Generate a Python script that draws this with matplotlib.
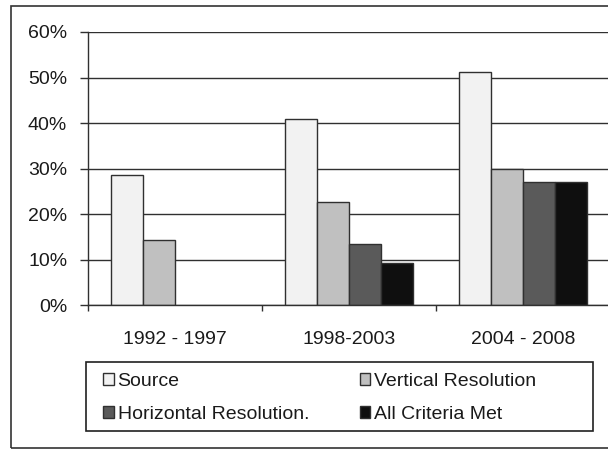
import matplotlib
matplotlib.use("Agg")
import matplotlib.pyplot as plt
from matplotlib.patches import Rectangle, Patch
import numpy as np

plt.rcParams['font.family'] = ['Liberation Sans', 'DejaVu Sans']

periods = ["1992 - 1997", "1998-2003", "2004 - 2008"]
series = ["Source", "Vertical Resolution", "Horizontal Resolution.", "All Criteria Met"]
source = [28.6, 40.8, 51.2]
vertical = [14.3, 22.6, 29.8]
horizontal = [0, 13.5, 27.0]
all_met = [0, 9.2, 27.0]
colors = ["#f2f2f2", "#c0c0c0", "#5a5a5a", "#0f0f0f"]
yticks = [0, 10, 20, 30, 40, 50, 60]

fig = plt.figure(figsize=(6.08, 4.49), dpi=100)
ax = fig.add_axes([88/608, 1 - 305/449, 522/608, 273/449])

# outer chart border (right side falls outside the picture)
fig.patches.append(Rectangle((11/608, 1 - 448/449), 1.2, 442/449,
                             transform=fig.transFigure, fill=False,
                             edgecolor="#333333", linewidth=1.2))
# legend box
fig.patches.append(Rectangle((86/608, 1 - 431/449), 507/608, 69/449,
                             transform=fig.transFigure, fill=False,
                             edgecolor="#202020", linewidth=1.2))

x = np.arange(len(periods))
w = 0.184
values = [source, vertical, horizontal, all_met]
for i, (vals, name, c) in enumerate(zip(values, series, colors)):
    bars = ax.bar(x + (i - 1.5) * w, vals, w, color=c, edgecolor="#303030",
                  linewidth=1.0, zorder=3)
    for b, v in zip(bars, vals):
        if v == 0:
            b.set_visible(False)

ax.set_xlim(-0.5, 2.5)
ax.set_ylim(0, 60)
ax.set_yticks(yticks)
ax.set_yticklabels([f"{t}%" for t in yticks])
ax.yaxis.grid(True, color="#303030", linewidth=1.0, zorder=0)
ax.set_axisbelow(True)

ax.set_xticks([-0.5, 0.5, 1.5, 2.5])
ax.set_xticklabels([])
ax.set_xticks(x, minor=True)
ax.set_xticklabels(periods, minor=True)
ax.tick_params(axis="x", which="major", length=4, width=1, color="#303030", direction="out")
ax.tick_params(axis="x", which="minor", length=0, pad=19, labelsize=14, labelcolor="#1a1a1a")
ax.tick_params(axis="y", length=6, width=1, color="#303030", pad=9, labelsize=14, labelcolor="#1a1a1a")

for s in ["top", "right"]:
    ax.spines[s].set_visible(False)
for s in ["left", "bottom"]:
    ax.spines[s].set_color("#303030")
    ax.spines[s].set_linewidth(1.0)
    ax.spines[s].set_zorder(4)

# legend filled row by row: Source, Vertical / Horizontal, All
handles = [Patch(facecolor=c, edgecolor="#303030", linewidth=1.0) for c in colors]
order = [0, 2, 1, 3]
leg = fig.legend([handles[i] for i in order], [series[i] for i in order],
                 loc="upper left", bbox_to_anchor=(103/608, 1 - 373/449),
                 ncol=2, fontsize=14, frameon=False,
                 handlelength=0.55, handleheight=0.55, handletextpad=0.2,
                 borderaxespad=0, borderpad=0, labelspacing=0.8, columnspacing=2.6,
                 labelcolor="#1a1a1a")

fig.savefig("out.png", dpi=100)
